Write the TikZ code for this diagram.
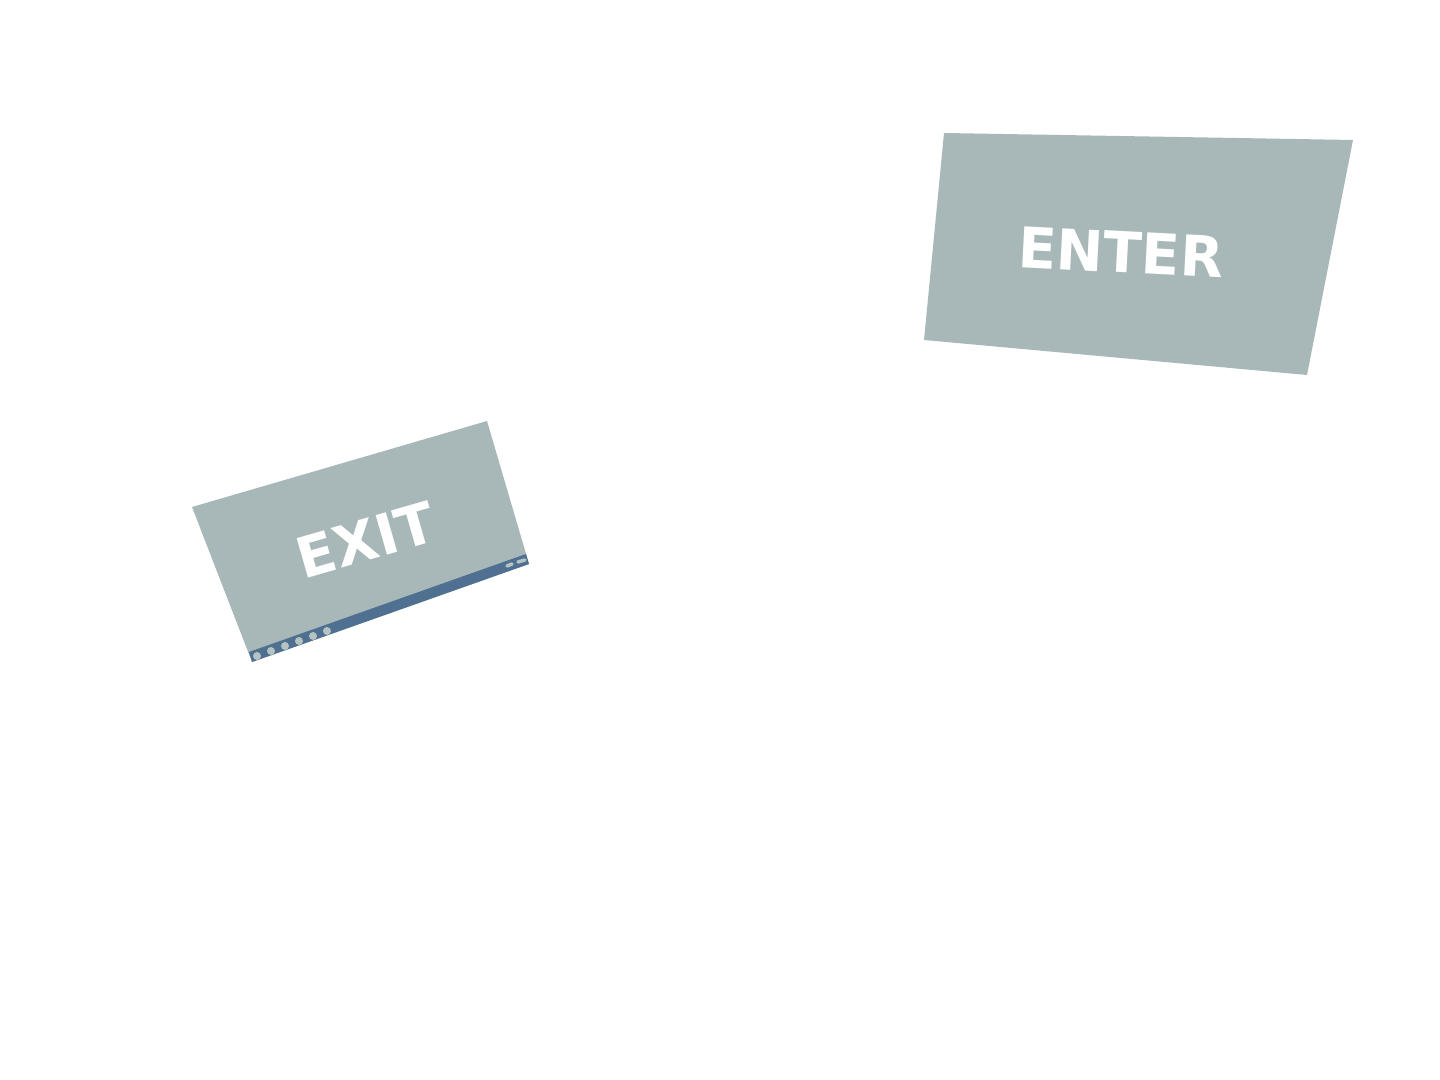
\documentclass[tikz,border=0pt]{standalone}
\usepackage{fontspec}
\setmainfont{DejaVu Sans}
\usetikzlibrary{positioning}
\definecolor{signgray}{HTML}{A8B8B8}
\definecolor{signblue}{HTML}{4F7090}
\tikzstyle{signplate}=[fill=signgray,draw=none]
\tikzstyle{signbar}=[fill=signblue,draw=none]
\tikzstyle{signtext}=[text=white,inner sep=0pt,font=\bfseries\fontsize{16}{16}\selectfont]
\tikzstyle{led}=[circle,fill=signgray!85!white,inner sep=0pt,minimum size=0.08cm]
\tikzstyle{pill}=[draw=signgray!85!white,line width=0.035cm,line cap=round]

\begin{document}
\begin{tikzpicture}[x=0.01cm,y=-0.01cm]
\useasboundingbox (0,0) rectangle (1440,1080);

% enter sign
\fill [signplate] (944,133) -- (1353,140) -- (1307,375) -- (924,340) -- cycle;
\node (enter) [signtext,rotate=-3] at (1121,252) {ENTER};

% exit sign
\fill [signplate] (192,507) -- (487,421) -- (529,564) -- (252,662) -- cycle;
\fill [signbar] (249,652) -- (526,554) -- (529,564) -- (252,662) -- cycle;
\node (exit) [signtext,rotate=16] at (366,540) {EXIT};
\foreach \i in {0,...,5}
  \node (led\i) [led] at (257+14*\i,656-5*\i) {};
\draw [pill] (507,566) -- (512,564);
\draw [pill] (518,562) -- (525,560);

\end{tikzpicture}
\end{document}
